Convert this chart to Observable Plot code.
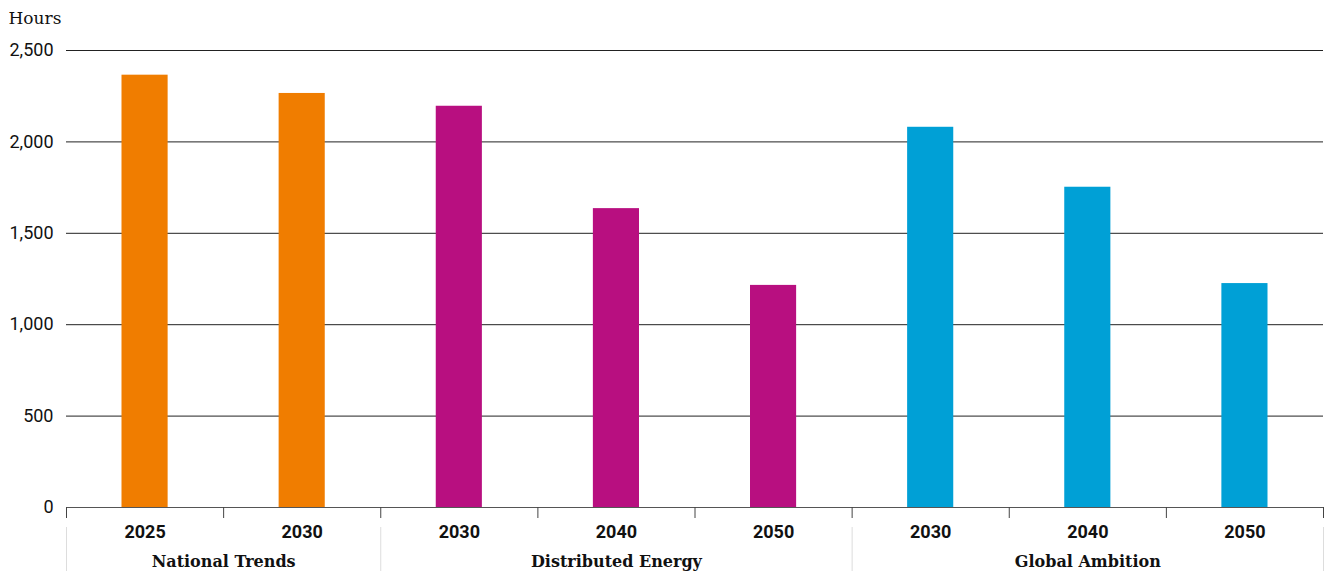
<!DOCTYPE html>
<html>
<head>
<meta charset="utf-8">
<script src="https://cdn.jsdelivr.net/npm/d3@7"></script>
<script src="https://cdn.jsdelivr.net/npm/@observablehq/plot@0.6"></script>
<style>
  html, body { margin: 0; padding: 0; background: #fff; }
  #chart svg { display: block; }
</style>
</head>
<body>
<div id="chart"></div>
<script>
// ---- data ----
const scenarios = ["National Trends", "National Trends", "Distributed Energy", "Distributed Energy", "Distributed Energy", "Global Ambition", "Global Ambition", "Global Ambition"];
const years = ["2025", "2030", "2030", "2040", "2050", "2030", "2040", "2050"];
const hours = [2365, 2265, 2195, 1635, 1215, 2080, 1752, 1225];
const scenarioNames = ["National Trends", "Distributed Energy", "Global Ambition"];
const scenarioColors = ["#F07D00", "#B80F80", "#00A0D6"];
const yTicks = [0, 500, 1000, 1500, 2000, 2500];
const yLabel = "Hours";

// ---- derived tables ----
const bars = hours.map((v, i) => ({i, scenario: scenarios[i], year: years[i], value: v}));
const groupInfo = scenarioNames.map(name => {
  const idx = scenarios.map((s, i) => s === name ? i : -1).filter(i => i >= 0);
  return {name, start: d3.min(idx), end: d3.max(idx) + 1};
});
const groupBounds = Array.from(new Set(groupInfo.flatMap(g => [g.start, g.end])));
const boundaries = d3.range(0, bars.length + 1);

const serif = "'DejaVu Serif', serif";

const plot = Plot.plot({
  width: 1326,
  height: 571,
  marginTop: 50,
  marginBottom: 64,
  marginLeft: 66,
  marginRight: 3,
  style: {fontFamily: "Roboto, sans-serif", fontSize: "18px", color: "#111", background: "#fff", overflow: "hidden"},
  x: {type: "linear", domain: [0, bars.length], axis: null},
  y: {domain: [0, 2500], axis: null},
  color: {domain: scenarioNames, range: scenarioColors},
  marks: [
    Plot.ruleY(yTicks.filter(d => d > 0), {stroke: "#222", strokeWidth: 1}),
    Plot.rectY(bars, {x1: d => d.i, x2: d => d.i + 1, y: "value", fill: "scenario", insetLeft: 55.5, insetRight: 55.5}),
    Plot.ruleY([0], {stroke: "#555", strokeWidth: 1.2}),
    Plot.axisX({ticks: boundaries, tickSize: 11, tickFormat: () => "", stroke: "#444"}),
    Plot.axisY({ticks: yTicks, tickSize: 0, tickPadding: 13, tickFormat: d3.format(","), fontSize: 18, label: null}),
    Plot.text(bars, {x: d => d.i + 0.5, frameAnchor: "bottom", lineAnchor: "middle", dy: 25, text: "year", fontWeight: "bold", fontSize: 18, fill: "#111"}),
    Plot.tickX(groupBounds, {x: d => d, dy: 64, insetTop: 413, stroke: "#ddd", strokeWidth: 1}),
    Plot.text(groupInfo, {x: d => (d.start + d.end) / 2, frameAnchor: "bottom", lineAnchor: "middle", dy: 54, text: "name", fontWeight: "bold", fontSize: 16, fontFamily: serif, fill: "#111"}),
    Plot.text([yLabel], {frameAnchor: "top-left", lineAnchor: "middle", dx: -58, dy: -32, textAnchor: "start", fontSize: 17, fontFamily: serif, fill: "#111"})
  ]
});
document.getElementById("chart").appendChild(plot);
</script>
</body>
</html>
